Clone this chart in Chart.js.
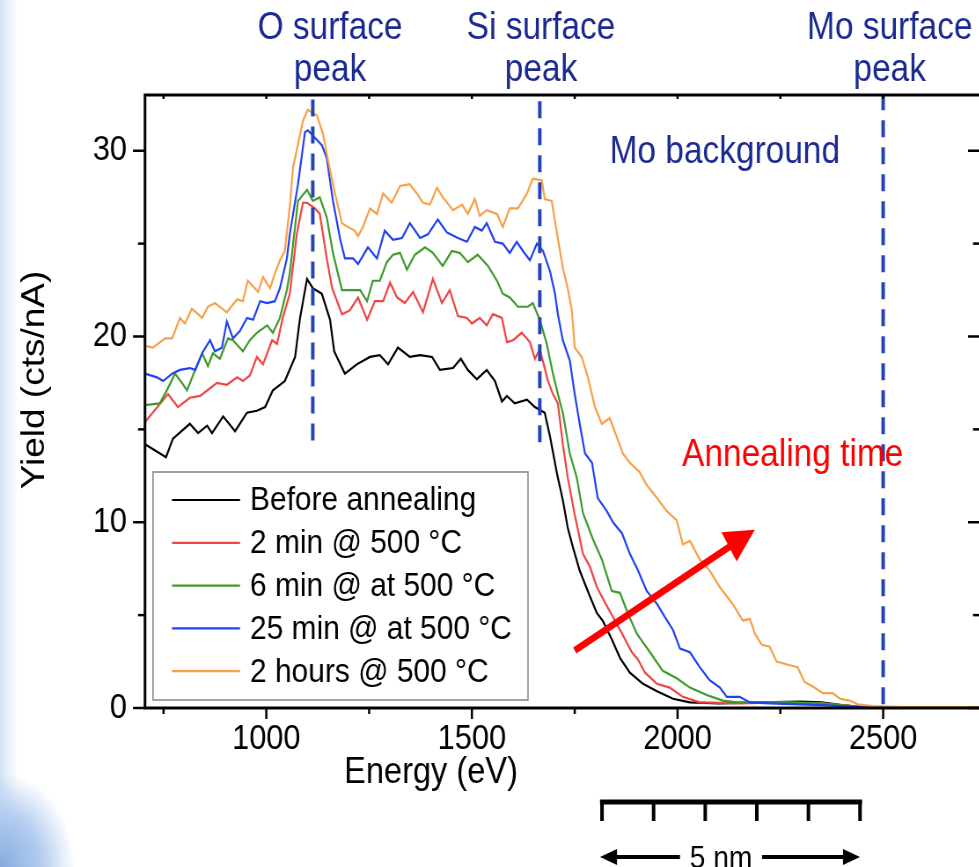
<!DOCTYPE html>
<html>
<head>
<meta charset="utf-8">
<script src="https://cdn.jsdelivr.net/npm/chart.js@4.4.1/dist/chart.umd.min.js"></script>
<style>
  html, body { margin: 0; padding: 0; width: 979px; height: 867px; overflow: hidden; }
  body {
    background:
      radial-gradient(ellipse 75px 95px at 0 867px, #86abe0 0%, #b3ccef 55%, rgba(255,255,255,0) 100%),
      linear-gradient(to right, #d3e3f6 0px, #e9f1fa 8px, #ffffff 18px);
  }
  /* the original figure is squeezed horizontally, so draw wider and squeeze */
  #wrap { position: absolute; left: 0; top: 0; width: 1130px; height: 867px; transform: scaleX(0.88); transform-origin: 0 0; }
</style>
</head>
<body>
<div id="wrap"><canvas id="rbsChart" width="1130" height="867"></canvas></div>
<script>
// Spectra: energy (eV) and yield (cts/nA)
const seriesLabels = ['Before annealing', '2 min @ 500 °C', '6 min @ at 500 °C', '25 min @ at 500 °C', '2 hours @ 500 °C'];
const seriesColors = ['#000000', '#f04444', '#3f9a2c', '#2142f0', '#f8a048'];

const xTickValues = [750, 1000, 1250, 1500, 1750, 2000, 2250, 2500];
const yTickValues = [0, 5, 10, 15, 20, 25, 30];

const energyBlack = [705, 756, 773, 814, 834, 856, 868, 895, 924, 953,
  977, 997, 1016, 1045, 1070, 1082, 1099, 1113, 1135, 1155,
  1165, 1191, 1220, 1252, 1276, 1296, 1320, 1349, 1374, 1403,
  1422, 1454, 1473, 1490, 1512, 1536, 1556, 1573, 1585, 1604,
  1634, 1653, 1677, 1690, 1707, 1721, 1733, 1745, 1762, 1787,
  1804, 1818, 1840, 1860, 1884, 1916, 1950, 1989, 2030, 2100,
  2200, 2300, 2350, 2400, 2450, 2500, 2740];
const yieldBlack = [14.2, 13.5, 14.5, 15.3, 14.8, 15.2, 14.8, 15.7, 14.9, 15.9,
  16.0, 16.2, 17.1, 17.6, 18.9, 21.0, 23.1, 22.6, 22.3, 20.9,
  19.2, 18.0, 18.5, 18.9, 19.0, 18.5, 19.4, 18.9, 19.0, 18.9,
  18.2, 18.3, 18.8, 18.2, 17.7, 18.2, 17.6, 16.5, 16.8, 16.4,
  16.6, 16.2, 15.9, 14.6, 12.6, 11.2, 9.7, 8.7, 7.4, 6.0,
  5.1, 4.7, 3.7, 2.7, 1.9, 1.3, 0.9, 0.5, 0.3, 0.25,
  0.3, 0.35, 0.3, 0.15, 0.05, 0.0, 0.0];

const energyRed = [705, 761, 785, 814, 839, 880, 904, 929, 943, 960,
  977, 992, 1014, 1026, 1040, 1057, 1074, 1089, 1099, 1118,
  1130, 1147, 1160, 1184, 1203, 1223, 1245, 1264, 1284, 1301,
  1318, 1337, 1357, 1381, 1405, 1427, 1446, 1466, 1488, 1500,
  1519, 1536, 1551, 1573, 1585, 1600, 1621, 1641, 1653, 1665,
  1677, 1685, 1697, 1709, 1721, 1733, 1750, 1770, 1787, 1804,
  1823, 1843, 1865, 1889, 1904, 1921, 1950, 1981, 2013, 2054,
  2150, 2250, 2350, 2450, 2500, 2740];
const yieldRed = [15.4, 16.9, 16.2, 16.7, 16.8, 17.5, 17.4, 17.8, 17.6, 17.9,
  18.9, 18.5, 19.8, 19.6, 21.0, 22.3, 25.5, 27.2, 27.2, 26.9,
  26.6, 24.2, 22.6, 21.2, 21.4, 22.1, 20.9, 21.9, 21.9, 22.9,
  22.1, 21.8, 22.4, 21.3, 23.1, 21.8, 22.5, 21.1, 21.0, 20.7,
  21.0, 20.6, 21.2, 21.0, 19.7, 19.8, 20.2, 19.7, 18.8, 19.3,
  18.3, 17.6, 16.9, 16.4, 14.2, 12.4, 10.4, 8.3, 7.6, 6.5,
  5.7, 4.9, 4.0, 3.0, 2.6, 1.9, 1.3, 1.1, 0.6, 0.3,
  0.25, 0.3, 0.25, 0.05, 0.0, 0.0];

const energyGreen = [705, 741, 758, 778, 795, 807, 827, 844, 858, 870,
  887, 907, 919, 943, 960, 977, 1002, 1016, 1033, 1050,
  1057, 1077, 1099, 1113, 1130, 1147, 1162, 1184, 1203, 1228,
  1245, 1259, 1276, 1293, 1308, 1325, 1342, 1361, 1386, 1405,
  1429, 1451, 1471, 1490, 1514, 1539, 1561, 1575, 1592, 1612,
  1636, 1648, 1665, 1682, 1697, 1709, 1721, 1738, 1755, 1770,
  1794, 1816, 1840, 1860, 1879, 1901, 1933, 1964, 1998, 2030,
  2071, 2110, 2144, 2250, 2350, 2450, 2500, 2740];
const yieldGreen = [16.3, 16.4, 17.1, 18.0, 17.5, 17.1, 18.2, 19.1, 18.4, 19.1,
  18.8, 19.9, 19.8, 19.2, 19.8, 20.2, 20.6, 20.2, 21.0, 22.5,
  23.4, 27.3, 27.9, 27.3, 27.5, 26.4, 24.5, 22.5, 22.5, 22.5,
  21.9, 23.0, 23.0, 24.0, 24.4, 24.5, 23.6, 24.4, 24.8, 24.5,
  23.8, 24.6, 24.5, 24.0, 24.4, 23.8, 23.0, 22.3, 22.1, 21.6,
  21.6, 21.8, 20.9, 19.6, 18.0, 16.9, 15.9, 13.7, 12.4, 10.5,
  9.1, 8.0, 6.3, 6.2, 5.1, 4.0, 3.0, 2.0, 1.6, 1.1,
  0.7, 0.4, 0.3, 0.3, 0.25, 0.05, 0.0, 0.0];

const energyBlue = [705, 734, 749, 771, 790, 814, 827, 844, 863, 875,
  892, 904, 919, 936, 953, 968, 985, 1002, 1021, 1033,
  1050, 1057, 1077, 1094, 1101, 1118, 1135, 1147, 1162, 1179,
  1191, 1211, 1223, 1247, 1269, 1288, 1308, 1330, 1349, 1374,
  1393, 1417, 1439, 1466, 1488, 1507, 1524, 1536, 1556, 1575,
  1592, 1609, 1624, 1641, 1658, 1673, 1690, 1702, 1709, 1721,
  1738, 1750, 1762, 1775, 1792, 1806, 1828, 1843, 1865, 1884,
  1904, 1925, 1950, 1969, 1989, 2006, 2030, 2054, 2078, 2103,
  2120, 2151, 2176, 2224, 2350, 2450, 2500, 2740];
const yieldBlue = [18.0, 17.8, 17.6, 18.0, 18.2, 18.3, 18.2, 19.1, 19.8, 19.2,
  19.4, 20.8, 19.9, 20.3, 21.0, 20.9, 21.9, 21.8, 21.9, 22.6,
  24.2, 25.5, 28.2, 31.0, 31.1, 30.7, 30.3, 29.6, 27.3, 25.3,
  24.2, 24.2, 23.9, 24.8, 24.2, 25.7, 25.2, 25.3, 26.1, 25.3,
  25.5, 26.3, 25.6, 25.3, 25.1, 25.9, 25.7, 26.1, 25.1, 25.0,
  24.5, 25.1, 24.6, 24.1, 25.0, 24.6, 23.5, 22.3, 21.2, 19.8,
  18.7, 16.9, 15.3, 13.7, 13.2, 11.3, 10.6, 10.0, 9.4, 8.3,
  7.4, 6.3, 5.6, 4.9, 4.2, 3.2, 3.0, 2.2, 1.5, 1.1,
  0.6, 0.6, 0.3, 0.25, 0.15, 0.05, 0.0, 0.0];

const energyOrange = [705, 724, 754, 771, 790, 802, 819, 844, 858, 875,
  904, 929, 943, 955, 980, 992, 1009, 1021, 1033, 1045,
  1057, 1065, 1089, 1101, 1123, 1138, 1150, 1167, 1184, 1198,
  1215, 1223, 1235, 1252, 1269, 1284, 1305, 1325, 1349, 1366,
  1381, 1398, 1415, 1429, 1454, 1476, 1490, 1507, 1519, 1536,
  1561, 1575, 1592, 1612, 1634, 1648, 1670, 1677, 1694, 1702,
  1714, 1721, 1733, 1743, 1750, 1767, 1782, 1799, 1816, 1835,
  1852, 1867, 1884, 1908, 1925, 1950, 1974, 1998, 2013, 2030,
  2054, 2078, 2103, 2134, 2159, 2176, 2188, 2205, 2224, 2241,
  2273, 2292, 2309, 2333, 2353, 2377, 2395, 2419, 2438, 2475,
  2550, 2740];
const yieldOrange = [19.5, 19.4, 19.9, 19.9, 21.0, 20.7, 21.5, 21.0, 21.6, 21.8,
  21.3, 22.0, 21.9, 23.0, 22.4, 23.2, 22.6, 23.4, 24.1, 24.6,
  27.0, 29.1, 31.6, 32.2, 31.9, 30.9, 29.5, 27.7, 26.1, 25.9,
  25.7, 25.4, 25.9, 26.9, 26.6, 27.7, 27.2, 28.1, 28.2, 27.7,
  27.2, 27.1, 28.0, 27.5, 26.8, 27.1, 26.6, 27.4, 26.5, 26.8,
  26.6, 25.9, 26.9, 26.9, 27.7, 28.5, 28.4, 27.4, 27.3, 26.2,
  24.6, 23.7, 22.6, 21.4, 19.4, 18.9, 17.8, 16.2, 15.3, 15.6,
  14.6, 13.7, 13.2, 12.7, 12.0, 11.3, 10.6, 10.1, 8.8, 9.0,
  8.0, 7.4, 6.5, 5.6, 4.7, 4.8, 4.0, 3.4, 3.3, 2.5,
  2.3, 2.2, 1.4, 1.1, 0.8, 0.8, 0.5, 0.4, 0.2, 0.1,
  0.05, 0.05];

// Surface peak markers (dashed lines): energy, lower end of the dash (yield)
const markerEnergies = [1113, 1665, 2500];
const markerBottoms = [14.4, 14.3, 0.2];
const markerTop = 33;

const S = 0.88;              // horizontal squeeze used in #wrap
const px = v => v / S;       // picture x -> canvas x
const FONT = "'Liberation Sans', Arial, sans-serif";
const NAVY = '#1b2a8f';

const energies = [energyBlack, energyRed, energyGreen, energyBlue, energyOrange];
const yields = [yieldBlack, yieldRed, yieldGreen, yieldBlue, yieldOrange];

const datasets = seriesLabels.map((label, i) => ({
    label: label,
    data: energies[i].map((e, k) => ({x: e, y: yields[i][k]})),
    borderColor: seriesColors[i],
    borderWidth: 2.2,
    pointRadius: 0,
    tension: 0,
    order: 5 - i,
    inLegend: true
}));

markerEnergies.forEach((e, i) => {
    datasets.push({
        label: 'marker' + i,
        data: [{x: e, y: markerBottoms[i]}, {x: e, y: markerTop}],
        borderColor: '#2343b6',
        borderWidth: 4,
        borderDash: [17, 10],
        pointRadius: 0,
        order: 0
    });
});

function seg(ctx, x1, y1, x2, y2) {
    ctx.beginPath();
    ctx.moveTo(x1, y1);
    ctx.lineTo(x2, y2);
    ctx.stroke();
}

const decorations = {
    id: 'decorations',
    afterDatasetsDraw(chart) {
        const {ctx, chartArea: a, scales: {x, y}} = chart;
        ctx.save();

        // frame + ticks
        ctx.strokeStyle = '#000';
        ctx.lineWidth = 3;
        ctx.strokeRect(a.left, a.top, a.right - a.left, a.bottom - a.top);
        ctx.lineWidth = 2.5;
        x.ticks.forEach(t => {
            const p = x.getPixelForValue(t.value);
            const major = t.value % 500 === 0;
            seg(ctx, p, a.bottom, p, a.bottom + (major ? 11 : 6));
            seg(ctx, p, a.top, p, a.top + 4);
        });
        y.ticks.forEach(t => {
            const p = y.getPixelForValue(t.value);
            const major = t.value % 10 === 0;
            seg(ctx, a.left - px(major ? 12 : 7), p, a.left, p);
            seg(ctx, a.right - px(major ? 13 : 8), p, a.right, p);
        });

        // axis titles
        ctx.fillStyle = '#000';
        ctx.font = '37px ' + FONT;
        ctx.textAlign = 'center';
        ctx.textBaseline = 'middle';
        ctx.fillText('Energy (eV)', px(431), 773);
        ctx.save();
        ctx.translate(px(35), 380);
        ctx.rotate(-Math.PI / 2);
        ctx.fillText('Yield (cts/nA)', 0, 0);
        ctx.restore();

        // legend box
        ctx.fillStyle = '#fff';
        ctx.fillRect(px(153), 472, px(375), 228);
        ctx.strokeStyle = '#8a8a8a';
        ctx.lineWidth = 1.6;
        ctx.strokeRect(px(153), 472, px(375), 228);
        ctx.font = '34px ' + FONT;
        ctx.textAlign = 'left';
        chart.data.datasets.filter(d => d.inLegend).forEach((d, i) => {
            const ry = 500 + i * 42.8;
            ctx.strokeStyle = d.borderColor;
            ctx.lineWidth = 2.2;
            seg(ctx, px(172), ry, px(240), ry);
            ctx.fillStyle = '#000';
            ctx.fillText(d.label, px(250), ry + 1);
        });

        // peak notes above the plot
        ctx.fillStyle = NAVY;
        ctx.font = '38px ' + FONT;
        ctx.textAlign = 'center';
        [['O surface', 1155], ['Si surface', 1668], ['Mo surface', 2516]].forEach(([txt, e]) => {
            const cx = x.getPixelForValue(e);
            ctx.fillText(txt, cx, 29);
            ctx.fillText('peak', cx, 71);
        });
        ctx.fillText('Mo background', x.getPixelForValue(2115), y.getPixelForValue(29.9));

        // annealing arrow
        ctx.fillStyle = '#ff0000';
        ctx.font = '38px ' + FONT;
        ctx.fillText('Annealing time', x.getPixelForValue(2280), y.getPixelForValue(13.6));
        const x1 = x.getPixelForValue(1750), y1 = y.getPixelForValue(3.1);
        const x2 = x.getPixelForValue(2188), y2 = y.getPixelForValue(9.6);
        const ang = Math.atan2(y2 - y1, x2 - x1);
        const hl = 34, hw = 17;
        const bx = x2 - hl * Math.cos(ang), by = y2 - hl * Math.sin(ang);
        ctx.strokeStyle = '#ff0000';
        ctx.lineWidth = 7;
        seg(ctx, x1, y1, bx + 2 * Math.cos(ang), by + 2 * Math.sin(ang));
        ctx.beginPath();
        ctx.moveTo(x2, y2);
        ctx.lineTo(bx + hw * Math.sin(ang), by - hw * Math.cos(ang));
        ctx.lineTo(bx - hw * Math.sin(ang), by + hw * Math.cos(ang));
        ctx.closePath();
        ctx.fill();

        // 5 nm scale bar
        ctx.strokeStyle = '#000';
        ctx.fillStyle = '#000';
        ctx.lineWidth = 5;
        seg(ctx, px(600), 802, px(862), 802);
        ctx.lineWidth = 4;
        for (let k = 0; k <= 5; k++) {
            const tx = px(602 + k * 51.6);
            seg(ctx, tx, 800, tx, 821);
        }
        ctx.lineWidth = 4;
        seg(ctx, px(610), 857, px(680), 857);
        seg(ctx, px(762), 857, px(850), 857);
        ctx.beginPath();
        ctx.moveTo(px(600), 857); ctx.lineTo(px(617), 849); ctx.lineTo(px(617), 865); ctx.closePath(); ctx.fill();
        ctx.beginPath();
        ctx.moveTo(px(860), 857); ctx.lineTo(px(843), 849); ctx.lineTo(px(843), 865); ctx.closePath(); ctx.fill();
        ctx.font = '32px ' + FONT;
        ctx.textAlign = 'center';
        ctx.fillText('5 nm', px(721), 859);

        ctx.restore();
    }
};

Chart.defaults.font.family = FONT;
Chart.defaults.color = '#000';

new Chart(document.getElementById('rbsChart').getContext('2d'), {
    type: 'line',
    data: {datasets: datasets},
    options: {
        responsive: false,
        animation: false,
        events: [],
        layout: {padding: {left: 0, right: 1130 - px(981), top: 95, bottom: 0}},
        plugins: {legend: {display: false}, tooltip: {enabled: false}},
        scales: {
            x: {
                type: 'linear',
                min: 705,
                max: 2738,
                grid: {display: false, drawTicks: false},
                border: {display: false},
                afterBuildTicks: s => { s.ticks = xTickValues.map(v => ({value: v})); },
                ticks: {
                    autoSkip: false,
                    maxRotation: 0,
                    padding: 10,
                    font: {size: 35},
                    callback: v => (v % 500 === 0 ? String(v) : '')
                },
                afterFit: s => { s.height = 159; }
            },
            y: {
                min: 0,
                max: 33,
                grid: {display: false, drawTicks: false},
                border: {display: false},
                afterBuildTicks: s => { s.ticks = yTickValues.map(v => ({value: v})); },
                ticks: {
                    autoSkip: false,
                    padding: px(18),
                    font: {size: 35},
                    callback: v => (v % 10 === 0 ? String(v) : '')
                },
                afterFit: s => { s.width = px(145); }
            }
        }
    },
    plugins: [decorations]
});
</script>
</body>
</html>
